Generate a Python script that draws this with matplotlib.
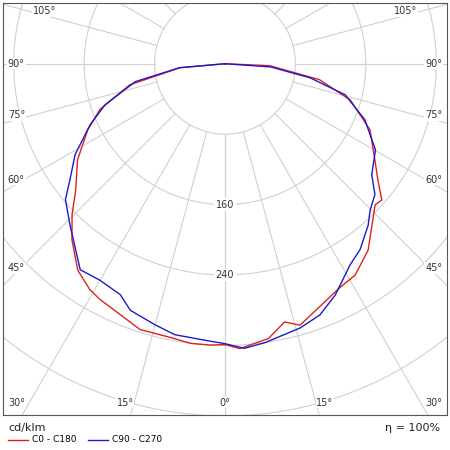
import matplotlib.pyplot as plt
import numpy as np

# C0 (right) / C180 (left), angles in degrees from nadir, values in cd/klm
red_right_ang = [0, 3, 9, 13, 16, 27, 31.6, 37.5, 46.8, 49, 52.8, 57.4, 65.5, 73.9, 80.4, 87.5, 90]
red_right_val = [319, 324, 316, 301, 309, 286, 282, 267, 234, 236, 218, 202, 181, 148, 109, 51, 0]
red_left_ang = [0, 3, 7, 11.4, 17.7, 28, 30.9, 35.5, 41, 45.4, 49.8, 56.9, 64.3, 70, 77.5, 85, 90]
red_left_val = [319, 320, 320, 317, 317, 303, 299, 288, 265, 244, 222, 200, 173, 151, 111, 51, 0]
# C90 (right) / C270 (left)
blue_right_ang = [0, 3.9, 8.2, 15.9, 20.7, 25.5, 31.9, 36, 41.6, 44.8, 48.9, 52.9, 60.2, 68.2, 75.5, 80.6, 86, 90]
blue_right_val = [318, 324, 320, 312, 305, 291, 269, 261, 245, 234, 226, 209, 197, 171, 141, 98, 52, 0]
blue_left_ang = [0, 4, 10.5, 15, 21, 24.4, 30, 35.1, 43.9, 49.6, 53.2, 58.8, 65.7, 71.1, 78.7, 85, 90]
blue_left_val = [318, 315, 313, 307, 300, 288, 284, 286, 254, 238, 220, 199, 168, 144, 104, 52, 0]

rings = [80, 160, 240, 320, 400, 480]
ring_labels = {160: '160', 240: '240'}
label_angles = [0, 15, 30, 45, 60, 75, 90, 105]

fig = plt.figure(figsize=(4.5, 4.5), dpi=100)
ax = fig.add_axes([3 / 450, 35 / 450, 444 / 450, 412 / 450])
xmin, xmax, ymin, ymax = -252, 252, -399, 69
ax.set_xlim(xmin, xmax)
ax.set_ylim(ymin, ymax)
ax.set_aspect('equal')
ax.set_xticks([])
ax.set_yticks([])
for s in ax.spines.values():
    s.set_color('#555555')
    s.set_linewidth(0.8)

grid = '#d0d0d0'
t = np.linspace(0, 2 * np.pi, 400)
for r in rings:
    ax.plot(r * np.cos(t), r * np.sin(t), color=grid, lw=0.8, zorder=1)
for a in range(0, 181, 15):
    th = np.radians(a)
    for sgn in (1, -1):
        x0, y0 = 80 * np.sin(th) * sgn, -80 * np.cos(th)
        ax.plot([x0, 700 * np.sin(th) * sgn], [y0, -700 * np.cos(th)], color=grid, lw=0.8, zorder=1)

for r, lab in ring_labels.items():
    ax.text(0, -r, lab, ha='center', va='center', fontsize=7, color='#333333',
            bbox=dict(facecolor='white', edgecolor='none', pad=1), zorder=2)

# angle labels on the frame
inset_x, inset_y = 15, 14
for a in label_angles:
    th = np.radians(a)
    dx, dy = np.sin(th), -np.cos(th)
    cands = []
    if dx > 1e-9:
        cands.append(((xmax - inset_x) / dx, 'side'))
    if dy < -1e-9:
        cands.append(((ymin + inset_y) / dy, 'bottom'))
    if dy > 1e-9:
        cands.append(((ymax - inset_y) / dy, 'top'))
    s, edge = min(cands)
    lx, ly = s * dx, s * dy
    if edge == 'bottom':
        lx = min(lx * 1.1, xmax - inset_x)
    elif a not in (90,):
        ly += 5
    for sgn in ((1, -1) if a else (1,)):
        ax.text(sgn * lx, ly, f'{a}°', ha='center', va='center', fontsize=7,
                color='#333333', bbox=dict(facecolor='white', edgecolor='none', pad=0.5), zorder=2)


def curve(la, lv, ra, rv):
    la, lv, ra, rv = map(np.array, (la, lv, ra, rv))
    x = np.concatenate([-lv[::-1] * np.sin(np.radians(la[::-1])), rv * np.sin(np.radians(ra))])
    y = np.concatenate([-lv[::-1] * np.cos(np.radians(la[::-1])), -rv * np.cos(np.radians(ra))])
    return x, y


bx, by = curve(blue_left_ang, blue_left_val, blue_right_ang, blue_right_val)
rx, ry = curve(red_left_ang, red_left_val, red_right_ang, red_right_val)
ax.plot(rx, ry, color='#e02020', lw=1.0, zorder=3)
ax.plot(bx, by, color='#1a1acc', lw=1.0, zorder=3)

fig.text(8 / 450, 1 - 428 / 450, 'cd/klm', fontsize=8, va='center', color='#222222')
fig.text(440 / 450, 1 - 428 / 450, 'η = 100%', fontsize=8, va='center', ha='right', color='#222222')
fig.lines.append(plt.Line2D([8 / 450, 28 / 450], [1 - 440 / 450] * 2, color='#e02020', lw=1, transform=fig.transFigure))
fig.text(32 / 450, 1 - 440 / 450, 'C0 - C180', fontsize=6.5, va='center')
fig.lines.append(plt.Line2D([88 / 450, 108 / 450], [1 - 440 / 450] * 2, color='#1a1acc', lw=1, transform=fig.transFigure))
fig.text(112 / 450, 1 - 440 / 450, 'C90 - C270', fontsize=6.5, va='center')

fig.savefig('out.png', dpi=100)
